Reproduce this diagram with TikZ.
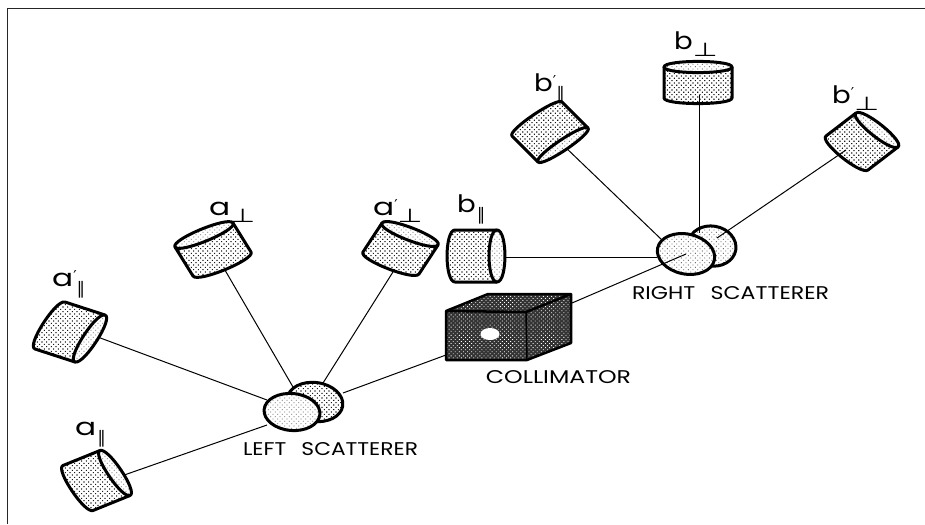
\documentclass[tikz,border=0pt]{standalone}
\usepackage{fontspec}
\usepackage{graphicx}
\setmainfont{Poppins}
\newfontfamily\symf{DejaVu Sans}
\usetikzlibrary{patterns.meta,calc}
\tikzset{
  thin line/.style={line width=1pt,black},
  thick edge/.style={line width=3pt,black,line join=round},
  lightdots/.style={pattern={Dots[radius=.8pt,distance=3.3pt,angle=45]},pattern color=black!90},
  faintdots/.style={pattern={Dots[radius=.55pt,distance=3.3pt,angle=45]},pattern color=black!85},
  darkdots/.style={pattern={Dots[radius=.6pt,distance=2.9pt,angle=45]},pattern color=white},
  symlabel/.style={inner sep=0pt,font=\fontsize{24}{24}\selectfont},
  caption/.style={inner sep=0pt,font=\fontsize{18}{18}\selectfont},
}
% name, face centre x,y, half axis x,y, body vector x,y, bulge
\newcommand\detector[8]{%
  \coordinate (#1) at (#2,#3);
  \pgfmathsetmacro\dby{-(#7)}\pgfmathsetmacro\day{-(#5)}%
  \begin{scope}[shift={(#2,#3)},x={(#6pt,\dby pt)},y={(#4pt,\day pt)}]
    \def\bodypath{(0,1) -- (1,1) .. controls (1+1.33*#8,1) and (1+1.33*#8,-1) .. (1,-1) -- (0,-1) .. controls (1.33*#8,-1) and (1.33*#8,1) .. (0,1) -- cycle}
    \fill[white] \bodypath;
    \path[lightdots] \bodypath;
    \def\facepath{(0,1) .. controls (1.33*#8,1) and (1.33*#8,-1) .. (0,-1) .. controls (-1.33*#8,-1) and (-1.33*#8,1) .. (0,1) -- cycle}
    \fill[white] \facepath;
    \path[faintdots] \facepath;
    \draw[thick edge] (0,1) -- (1,1) .. controls (1+1.33*#8,1) and (1+1.33*#8,-1) .. (1,-1) -- (0,-1);
    \draw[thick edge] \facepath;
  \end{scope}}
\newcommand\lab[3]{\node[symlabel,anchor=base west] (#1) at (#2) {#3};}
\newcommand\letter[1]{\scalebox{1.3}[1]{#1}}
\newcommand\bletter{\scalebox{1.15}[1]{b}}
\newcommand\primesym{\raisebox{5pt}{\symf\fontsize{15}{15}\selectfont ′}}
\newcommand\perpsym{\raisebox{-7pt}{\symf\fontsize{19}{19}\selectfont\scalebox{1.5}[1]{⊥}}}
\newcommand\parsym{\raisebox{-8pt}{\symf\fontsize{17}{17}\selectfont ∥}}
\begin{document}
\begin{tikzpicture}[x=1pt,y=-1pt]
\useasboundingbox (0,0) rectangle (925,524);
% frame
\coordinate (fa) at (7,524); \coordinate (fb) at (7,9); \coordinate (fc) at (925,9);
\draw[line width=1pt,black!85] (fa) -- (fb) -- (fc);
% scatterer reference points
\coordinate (LS) at (292,412);
\coordinate (RS) at (686,254);
\coordinate (LSb) at (315,402);
\coordinate (RSb) at (712,246);
% collimator points
\coordinate (cf) at (446,355);
\coordinate (cb) at (572,303);
% connectors under detectors
\coordinate (e1) at (267,425); \coordinate (e2) at (267,400); \coordinate (e3) at (293,387); \coordinate (e4) at (323,383);
\coordinate (e5) at (657,257); \coordinate (e6) at (662,240);
\coordinate (d1) at (120,476.5); \coordinate (d2) at (95,336); \coordinate (d3) at (222,265); \coordinate (d4) at (398,264);
\coordinate (d5) at (497,257); \coordinate (d6) at (563,145); \coordinate (d7) at (699,95); \coordinate (d8) at (846,150);
\draw[thin line] (d1) -- (e1);
\draw[thin line] (d2) -- (e2);
\draw[thin line] (d3) -- (e3);
\draw[thin line] (d4) -- (e4);
\draw[thin line] (d5) -- (e5);
\draw[thin line] (d6) -- (e6);
\detector{aPar}{115}{473}{15}{22.5}{-37}{15}{.17}
\detector{aPrPar}{90}{338.5}{15}{-23.5}{-40}{-13}{.17}
\detector{aPerp}{204}{235}{29}{-12}{18}{29}{.19}
\detector{aPrPerp}{410}{234}{28}{11}{-19}{29}{.19}
\detector{bPar}{497}{256}{0}{-26}{-42}{0}{.19}
\detector{bPrPar}{563}{145}{25}{-17}{-26}{-26}{.15}
\detector{bPerp}{698}{67}{34}{0}{0}{31}{.18}
\detector{bPrPerp}{877}{130}{21}{17}{-30}{23}{.18}
% left scatterer
\fill[white,rotate around={-8:(LSb)}] (LSb) ellipse [x radius=28,y radius=19.5];
\path[lightdots,rotate around={-8:(LSb)}] (LSb) ellipse [x radius=28,y radius=19.5];
\draw[thick edge,rotate around={-8:(LSb)}] (LSb) ellipse [x radius=28,y radius=19.5];
\fill[white,rotate around={-5:(LS)}] (LS) ellipse [x radius=28,y radius=18.5];
\path[faintdots,rotate around={-5:(LS)}] (LS) ellipse [x radius=28,y radius=18.5];
\draw[thick edge,rotate around={-5:(LS)}] (LS) ellipse [x radius=28,y radius=18.5];
% right scatterer
\fill[white,rotate around={-10:(RSb)}] (RSb) ellipse [x radius=24,y radius=20];
\path[faintdots,rotate around={-10:(RSb)}] (RSb) ellipse [x radius=24,y radius=20];
\draw[thick edge,rotate around={-10:(RSb)}] (RSb) ellipse [x radius=24,y radius=20];
\fill[white,rotate around={-12:(RS)}] (RS) ellipse [x radius=29,y radius=20];
\path[faintdots,rotate around={-12:(RS)}] (RS) ellipse [x radius=29,y radius=20];
\draw[thick edge,rotate around={-12:(RS)}] (RS) ellipse [x radius=29,y radius=20];
% connectors over the discs
\coordinate (t7) at (699,233); \coordinate (t8) at (717,238); \coordinate (t9) at (343,393);
\draw[thin line] (d7) -- (t7);
\draw[thin line] (d8) -- (t8);
\draw[thin line] (t9) -- (cf);
\draw[thin line] (cb) -- (RS);
% collimator
\coordinate (ca) at (446,311); \coordinate (cc) at (446,360); \coordinate (cd) at (527,360);
\coordinate (ce) at (526,312); \coordinate (cg) at (488,294); \coordinate (ch) at (571,294); \coordinate (ci) at (571,343);
\fill[black!80] (ca) -- (cg) -- (ch) -- (ci) -- (cd) -- (cc) -- cycle;
\path[darkdots] (ca) -- (cg) -- (ch) -- (ci) -- (cd) -- (cc) -- cycle;
\draw[line width=2.5pt,black,line join=round] (ca) -- (cc) -- (cd) -- (ci) -- (ch) -- (cg) -- (ca) -- (ce) -- (ch);
\draw[line width=1.5pt,black] (ce) -- (cd);
\coordinate (hole) at (490,334);
\fill[white] (hole) ellipse [x radius=9.5,y radius=6];
% labels
\lab{lAPar}{75,435}{\letter{a}\kern1pt\parsym}
\lab{lAPrPar}{52,286}{\letter{a}\primesym\parsym}
\lab{lAPerp}{209,215}{\letter{a}\perpsym}
\lab{lAPrPerp}{373,215}{\letter{a}\primesym\perpsym}
\lab{lBPar}{457,212}{\bletter\kern1pt\parsym}
\lab{lBPrPar}{534,92}{\bletter\primesym\parsym}
\lab{lBPerp}{674,50}{\bletter\perpsym}
\lab{lBPrPerp}{832,103}{\bletter\primesym\perpsym}
\node[caption] (capL) at (330.5,449.5) {\resizebox{175pt}{13pt}{LEFT\hspace{.7em}SCATTERER}};
\node[caption] (capC) at (558.5,377.5) {\resizebox{145pt}{13pt}{COLLIMATOR}};
\node[caption] (capR) at (730.5,293.5) {\resizebox{197pt}{13pt}{RIGHT\hspace{.7em}SCATTERER}};
\end{tikzpicture}
\end{document}
